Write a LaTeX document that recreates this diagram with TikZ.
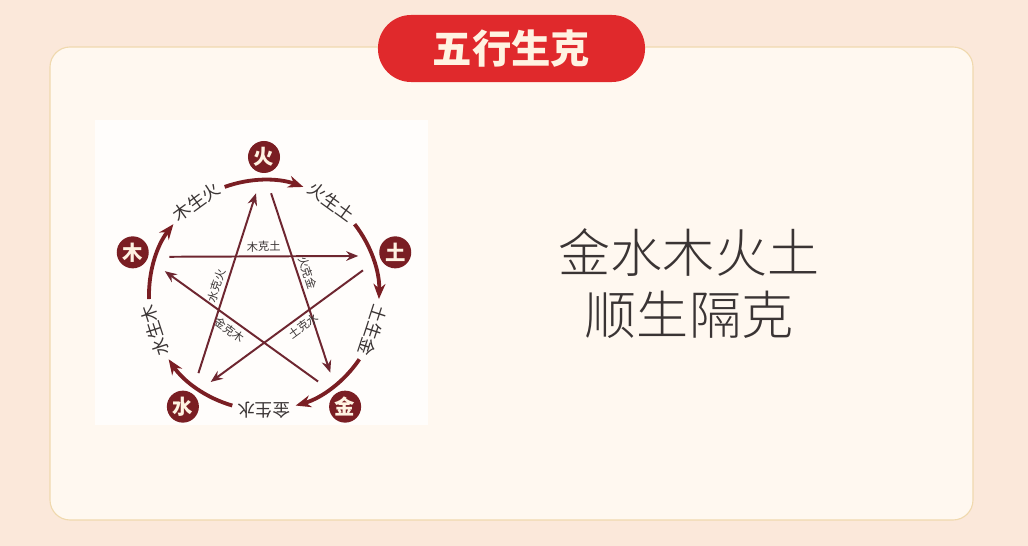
\documentclass[tikz,border=0pt]{standalone}
\usepackage{fontspec}
\usepackage{xcolor}
\usepackage{tikz}
\usetikzlibrary{arrows.meta,positioning,calc}
\newfontfamily\cjk{Noto Sans CJK SC}
\newfontfamily\cjklight{Noto Sans CJK SC Light}
\definecolor{peach}{HTML}{FBE8DA}
\definecolor{cardfill}{HTML}{FFF8F0}
\definecolor{cardline}{HTML}{F0D9AE}
\definecolor{panel}{HTML}{FFFDFB}
\definecolor{pillred}{HTML}{E0292C}
\definecolor{cream}{HTML}{FFF3E2}
\definecolor{wuxing}{HTML}{7A1E23}
\definecolor{kecol}{HTML}{6E2630}
\definecolor{ink}{HTML}{3A3434}
\tikzset{
  card/.style={draw=cardline,line width=0.8pt,fill=cardfill,rounded corners=5mm},
  pill/.style={fill=pillred,text=cream,rounded corners=8.3mm,minimum width=66.75mm,
    minimum height=16.75mm,font=\cjk\bfseries\fontsize{28}{28}\selectfont},
  xing/.style={circle,fill=wuxing,minimum size=8mm,inner sep=0pt,text=cream,
    font=\cjk\bfseries\fontsize{14.5}{14.5}\selectfont},
  sheng/.style={-{Stealth[length=3.8mm,width=3mm]},line width=2.7pt,draw=wuxing},
  ke/.style={-{Stealth[length=3mm,width=2.4mm]},line width=1.4pt,draw=kecol},
  shenglbl/.style={font=\cjk\fontsize{12.5}{12.5}\selectfont,text=ink,inner sep=0pt},
  kelbl/.style={font=\cjk\fontsize{8}{8}\selectfont,text=ink,inner sep=2.5pt,sloped},
  rule/.style={align=center,text=ink,font=\cjklight\fontsize{37}{44}\selectfont}
}

\begin{document}
\begin{tikzpicture}[x=0.025cm,y=0.025cm]
 \fill[peach] (0,0) rectangle (1028,546);
 \draw[card] (50,26) rectangle (973,499);
 \fill[panel] (95,121) rectangle (428,426);
 \node[pill] (title) at (511.5,497.5) {五行生克};
 \coordinate (c) at (264,251);
 % five elements
 \node[xing] (huo) at ($(c)+(90:138)$) {火};
 \node[xing] (tu) at ($(c)+(18:138)$) {土};
 \node[xing] (jin) at ($(c)+(-54:138)$) {金};
 \node[xing] (shui) at ($(c)+(-126:138)$) {水};
 \node[xing] (mu) at ($(c)+(162:138)$) {木};
 % sheng: outer ring
 \coordinate (huo-s) at ($(c)+(110:115)$);
 \coordinate (tu-s) at ($(c)+(38:115)$);
 \coordinate (jin-s) at ($(c)+(-34:115)$);
 \coordinate (shui-s) at ($(c)+(-106:115)$);
 \coordinate (mu-s) at ($(c)+(182:115)$);
 \draw[sheng] (huo-s) arc[start angle=110,end angle=70,radius=2.875cm];
 \draw[sheng] (tu-s) arc[start angle=38,end angle=-2,radius=2.875cm];
 \draw[sheng] (jin-s) arc[start angle=-34,end angle=-74,radius=2.875cm];
 \draw[sheng] (shui-s) arc[start angle=-106,end angle=-146,radius=2.875cm];
 \draw[sheng] (mu-s) arc[start angle=182,end angle=142,radius=2.875cm];
 \node[shenglbl,rotate=36] (mu-huo) at ($(c)+(126:115)$) {木生火};
 \node[shenglbl,rotate=-36] (huo-tu) at ($(c)+(54:115)$) {火生土};
 \node[shenglbl,rotate=-108] (tu-jin) at ($(c)+(-18:115)$) {土生金};
 \node[shenglbl,rotate=-180] (jin-shui) at ($(c)+(-90:115)$) {金生水};
 \node[shenglbl,rotate=108] (shui-mu) at ($(c)+(198:115)$) {水生木};
 % ke: inner star
 \coordinate (huo-o) at ($(c)+(86:102)$);  \coordinate (huo-i) at ($(c)+(94.5:102)$);
 \coordinate (tu-o) at ($(c)+(14:102)$);   \coordinate (tu-i) at ($(c)+(22.5:102)$);
 \coordinate (jin-o) at ($(c)+(-58:102)$); \coordinate (jin-i) at ($(c)+(-49.5:102)$);
 \coordinate (shui-o) at ($(c)+(-130:102)$); \coordinate (shui-i) at ($(c)+(-121.5:102)$);
 \coordinate (mu-o) at ($(c)+(158:102)$);  \coordinate (mu-i) at ($(c)+(166.5:102)$);
 \draw[ke] (mu-o) -- node[kelbl,above,pos=0.5] {木克土} (tu-i);
 \draw[ke] (huo-o) -- node[kelbl,above,pos=0.46] {火克金} (jin-i);
 \draw[ke] (tu-o) -- node[kelbl,below,pos=0.43] {土克水} (shui-i);
 \draw[ke] (jin-o) -- node[kelbl,below,pos=0.54] {金克木} (mu-i);
 \draw[ke] (shui-o) -- node[kelbl,above,pos=0.47] {水克火} (huo-i);
 \node[rule] (rhyme) at (689,262) {金水木火土\\顺生隔克};
\end{tikzpicture}
\end{document}
